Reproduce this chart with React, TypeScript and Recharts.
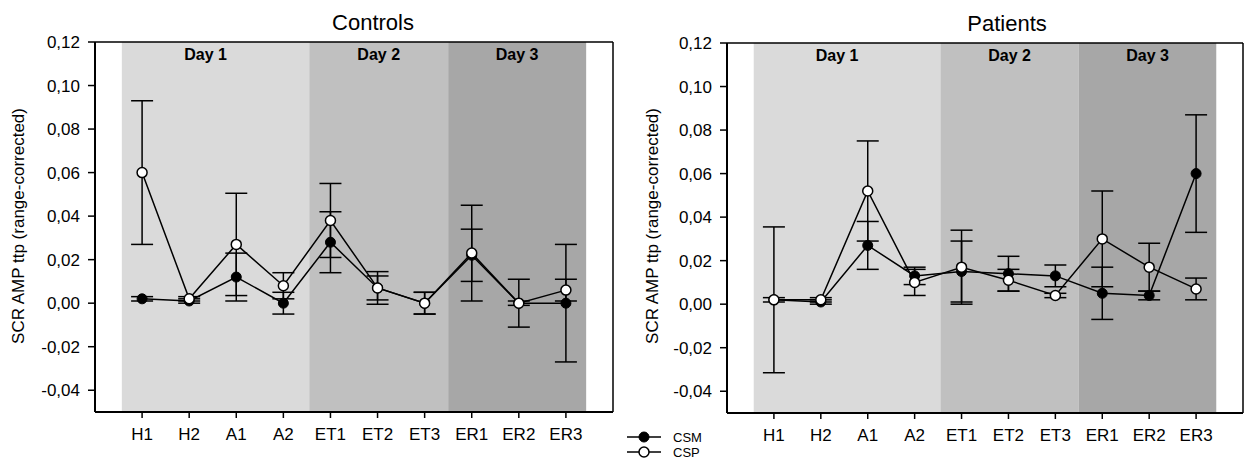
import React from "react";
import {
  LineChart,
  Line,
  XAxis,
  YAxis,
  ErrorBar,
  ReferenceArea,
  ReferenceLine,
} from "recharts";

const phases = ["H1", "H2", "A1", "A2", "ET1", "ET2", "ET3", "ER1", "ER2", "ER3"];
const yTicks = [-0.04, -0.02, 0, 0.02, 0.04, 0.06, 0.08, 0.1, 0.12];
const days = ["Day 1", "Day 2", "Day 3"];
const dayEdges = [0.57, 4.55, 7.5, 10.43];
const dayFills = ["#dadada", "#c0c0c0", "#a7a7a7"];

// Controls
const controlsCsm = [0.002, 0.001, 0.012, 0.0, 0.028, 0.007, 0.0, 0.022, 0.0, 0.0];
const controlsCsmErr = [0.001, 0.001, 0.011, 0.005, 0.014, 0.0055, 0.005, 0.012, 0.001, 0.027];
const controlsCsp = [0.06, 0.002, 0.027, 0.008, 0.038, 0.007, 0.0, 0.023, 0.0, 0.006];
const controlsCspErr = [0.033, 0.001, 0.0235, 0.006, 0.017, 0.0075, 0.005, 0.022, 0.011, 0.005];

// Patients
const patientsCsm = [0.002, 0.001, 0.027, 0.013, 0.015, 0.014, 0.013, 0.005, 0.004, 0.06];
const patientsCsmErr = [0.001, 0.001, 0.011, 0.004, 0.014, 0.008, 0.005, 0.012, 0.002, 0.027];
const patientsCsp = [0.002, 0.002, 0.052, 0.01, 0.017, 0.011, 0.004, 0.03, 0.017, 0.007];
const patientsCspErr = [0.0335, 0.001, 0.023, 0.006, 0.017, 0.005, 0.001, 0.022, 0.011, 0.005];

const FONT = "Arial, 'Liberation Sans', sans-serif";

const buildRows = (csm: number[], csmErr: number[], csp: number[], cspErr: number[]) =>
  phases.map((p, i) => ({
    x: i + 1,
    phase: p,
    csm: csm[i],
    csmErr: csmErr[i],
    csp: csp[i],
    cspErr: cspErr[i],
  }));

const fmt = (v: number) => v.toFixed(2).replace(".", ",");

function Panel({
  rows,
  yWidth,
  top,
  bottom,
}: {
  rows: ReturnType<typeof buildRows>;
  yWidth: number;
  top: number;
  bottom: number;
}) {
  return (
    <LineChart
      width={640}
      height={459}
      data={rows}
      margin={{ top, right: 27, bottom, left: 0 }}
      style={{ fontFamily: FONT }}
    >
      {days.map((d, i) => (
        <ReferenceArea
          key={d}
          x1={dayEdges[i]}
          x2={dayEdges[i + 1]}
          fill={dayFills[i]}
          fillOpacity={1}
          stroke="none"
          ifOverflow="hidden"
          label={{
            value: d,
            position: "insideTop",
            offset: 7,
            dx: i === 0 ? -10 : 0,
            fill: "#000",
            fontSize: 16,
            fontWeight: "bold",
          }}
        />
      ))}
      <XAxis
        dataKey="x"
        type="number"
        domain={[0, 11]}
        ticks={phases.map((_, i) => i + 1)}
        interval={0}
        allowDataOverflow
        tickFormatter={(v: number) => phases[v - 1]}
        height={40}
        tickSize={6}
        tickMargin={10}
        axisLine={{ stroke: "#000", strokeWidth: 2 }}
        tickLine={{ stroke: "#000", strokeWidth: 1.5 }}
        tick={{ fill: "#000", fontSize: 17 }}
      />
      <YAxis
        type="number"
        domain={[-0.05, 0.12]}
        ticks={yTicks}
        interval={0}
        allowDataOverflow
        width={yWidth}
        tickFormatter={fmt}
        tickSize={7}
        tickMargin={8}
        axisLine={{ stroke: "#000", strokeWidth: 2 }}
        tickLine={{ stroke: "#000", strokeWidth: 1.5 }}
        tick={{ fill: "#000", fontSize: 17 }}
      />
      <ReferenceLine y={0.12} stroke="#000" strokeWidth={1.5} ifOverflow="visible" />
      <ReferenceLine x={11} stroke="#000" strokeWidth={1.5} ifOverflow="visible" />
      <Line
        dataKey="csm"
        stroke="#000"
        strokeWidth={1.5}
        dot={{ r: 5, fill: "#000", stroke: "#000", strokeWidth: 1 }}
        isAnimationActive={false}
      >
        <ErrorBar dataKey="csmErr" width={11} stroke="#000" strokeWidth={1.5} direction="y" />
      </Line>
      <Line
        dataKey="csp"
        stroke="#000"
        strokeWidth={1.5}
        dot={{ r: 5, fill: "#fff", stroke: "#000", strokeWidth: 1.5 }}
        isAnimationActive={false}
      >
        <ErrorBar dataKey="cspErr" width={11} stroke="#000" strokeWidth={1.5} direction="y" />
      </Line>
    </LineChart>
  );
}

export default function App() {
  const controls = buildRows(controlsCsm, controlsCsmErr, controlsCsp, controlsCspErr);
  const patients = buildRows(patientsCsm, patientsCsmErr, patientsCsp, patientsCspErr);
  const yLabel = "SCR AMP ttp (range-corrected)";
  return (
    <div
      style={{
        position: "absolute",
        left: 0,
        top: 0,
        width: 1244,
        height: 459,
        overflow: "hidden",
        background: "#fff",
        fontFamily: FONT,
      }}
    >
      <div style={{ position: "absolute", left: 0, top: 0 }}>
        <Panel rows={controls} yWidth={95} top={42} bottom={7} />
      </div>
      <div style={{ position: "absolute", left: 630, top: 0 }}>
        <Panel rows={patients} yWidth={97} top={43} bottom={6} />
      </div>
      <svg
        width={1244}
        height={459}
        style={{ position: "absolute", left: 0, top: 0, pointerEvents: "none" }}
      >
        <text x={373} y={30} textAnchor="middle" fontSize={22} fill="#000" fontFamily={FONT}>
          Controls
        </text>
        <text x={1007} y={31} textAnchor="middle" fontSize={22} fill="#000" fontFamily={FONT}>
          Patients
        </text>
        <text
          transform="translate(24,226) rotate(-90)"
          textAnchor="middle"
          fontSize={17}
          fill="#000"
          fontFamily={FONT}
        >
          {yLabel}
        </text>
        <text
          transform="translate(658,226) rotate(-90)"
          textAnchor="middle"
          fontSize={17}
          fill="#000"
          fontFamily={FONT}
        >
          {yLabel}
        </text>
        <line x1={627} y1={437} x2={661} y2={437} stroke="#000" strokeWidth={1.5} />
        <circle cx={644} cy={437} r={5} fill="#000" stroke="#000" />
        <text x={673} y={442} fontSize={13} fill="#000" fontFamily={FONT}>
          CSM
        </text>
        <line x1={627} y1={452} x2={661} y2={452} stroke="#000" strokeWidth={1.5} />
        <circle cx={644} cy={452} r={5} fill="#fff" stroke="#000" strokeWidth={1.5} />
        <text x={673} y={457} fontSize={13} fill="#000" fontFamily={FONT}>
          CSP
        </text>
      </svg>
    </div>
  );
}
